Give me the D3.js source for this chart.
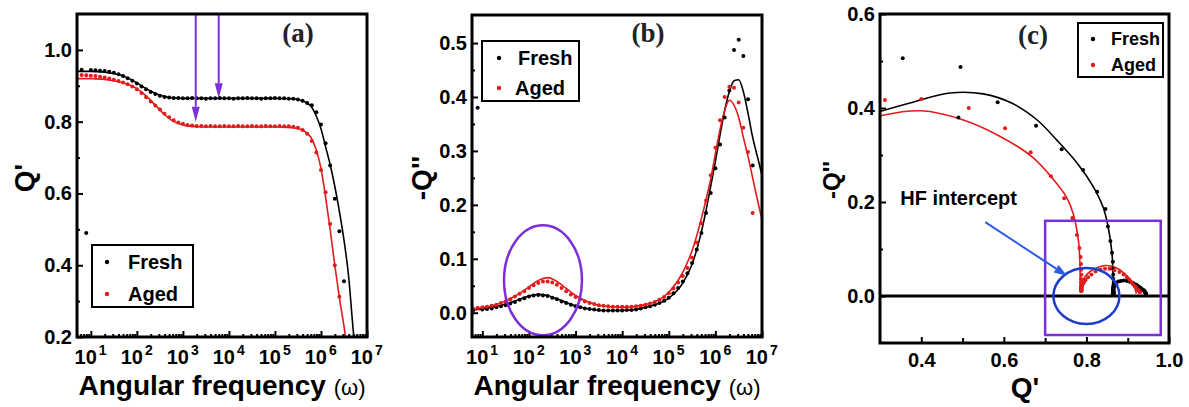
<!DOCTYPE html>
<html>
<head>
<meta charset="utf-8">
<script src="https://cdn.jsdelivr.net/npm/d3@7"></script>
<style>
body { margin: 0; background: #fff; }
</style>
</head>
<body>
<div id="chart"></div>
<script>
// ---- Data ----
// measured points: log10 of angular frequency
var pointLogW = [0.8,0.9,1.0,1.1,1.2,1.3,1.4,1.5,1.6,1.7,1.8,1.9,2.0,2.1,2.2,2.3,2.4,2.5,2.6,2.7,2.8,2.9,
                 3.0,3.1,3.2,3.3,3.4,3.5,3.6,3.7,3.8,3.9,4.0,4.1,4.2,4.3,4.4,4.5,4.6,4.7,4.8,4.9,
                 5.0,5.1,5.2,5.3,5.4,5.5,5.6,5.7,5.8,5.9,6.0,6.1,6.2,6.3,6.4,6.5,6.6,6.7,6.8];
// Q' (real part)
var freshQ1 = [0.945,0.49,0.944,0.943,0.942,0.941,0.939,0.936,0.932,0.927,0.921,0.914,0.906,0.898,0.890,0.883,0.877,0.872,0.869,0.867,0.866,0.866,
               0.865,0.865,0.866,0.865,0.865,0.864,0.865,0.865,0.866,0.865,0.865,0.864,0.865,0.865,0.866,0.865,0.865,0.864,0.865,0.865,
               0.866,0.865,0.865,0.864,0.864,0.862,0.858,0.852,0.846,0.826,0.792,0.740,0.678,0.585,0.495,0.355,0.19,0.12,0.05];
var agedQ1  = [0.930,0.929,0.928,0.927,0.925,0.923,0.920,0.917,0.913,0.909,0.904,0.898,0.890,0.880,0.868,0.856,0.845,0.834,0.822,0.812,0.804,0.798,
               0.794,0.791,0.789,0.788,0.788,0.787,0.788,0.787,0.787,0.788,0.787,0.787,0.788,0.787,0.787,0.788,0.787,0.787,0.788,0.787,
               0.787,0.788,0.787,0.787,0.786,0.783,0.777,0.766,0.746,0.714,0.665,0.603,0.515,0.400,0.312,0.19,null,null,null];
// -Q'' (imaginary part)
var freshQ2 = [0.004,0.38,0.006,0.007,0.008,0.010,0.012,0.014,0.017,0.020,0.024,0.027,0.030,0.032,0.033,0.032,0.031,0.028,0.025,0.021,0.018,0.015,
               0.012,0.010,0.008,0.007,0.006,0.005,0.004,0.004,0.004,0.004,0.004,0.005,0.005,0.006,0.008,0.010,0.012,0.015,0.018,0.022,
               0.028,0.036,0.046,0.058,0.073,0.092,0.117,0.148,0.185,0.222,0.268,0.312,0.362,0.412,0.487,0.506,0.476,0.396,0.273];
var agedQ2  = [0.008,0.009,0.010,0.011,0.013,0.015,0.018,0.021,0.025,0.030,0.035,0.040,0.046,0.051,0.055,0.058,0.058,0.056,0.052,0.046,0.040,0.034,
               0.029,0.025,0.021,0.018,0.016,0.014,0.013,0.012,0.011,0.011,0.011,0.011,0.011,0.012,0.013,0.015,0.017,0.020,0.024,0.029,
               0.036,0.045,0.056,0.068,0.083,0.102,0.130,0.166,0.208,0.255,0.306,0.357,0.400,0.419,0.417,0.390,0.343,0.298,0.185];

// fitted curves
var fitLogW     = [0.7,1.0,1.5,1.8,2.0,2.2,2.4,2.6,2.8,3.0,3.3,3.6,4.0,4.5,5.0,5.3,5.5,5.7,5.8,5.9,6.0,6.1,6.2,6.3,6.4,6.5,6.6,6.7,6.8,6.9,7.0];
var freshFitQ1  = [0.940,0.940,0.934,0.922,0.908,0.892,0.879,0.870,0.866,0.865,0.865,0.865,0.865,0.865,0.865,0.864,0.862,0.852,0.840,0.815,0.780,0.730,0.680,0.620,0.550,0.470,0.370,0.220,0.100,0.020,0.000];
var agedFitQ1   = [0.920,0.920,0.914,0.904,0.892,0.872,0.846,0.820,0.800,0.791,0.786,0.785,0.785,0.785,0.785,0.784,0.781,0.768,0.752,0.720,0.670,0.590,0.500,0.400,0.310,0.230,0.140,0.060,0.000,-0.050,-0.100];
var freshFitQ2  = [0.004,0.007,0.016,0.025,0.031,0.034,0.032,0.026,0.019,0.013,0.007,0.004,0.004,0.010,0.027,0.055,0.090,0.150,0.190,0.235,0.280,0.330,0.375,0.410,0.430,0.432,0.410,0.370,0.325,0.290,0.255];
var agedFitQ2   = [0.005,0.009,0.022,0.036,0.048,0.060,0.065,0.058,0.045,0.032,0.019,0.012,0.010,0.015,0.038,0.075,0.115,0.175,0.210,0.248,0.295,0.340,0.375,0.394,0.385,0.362,0.325,0.290,0.250,0.210,0.172];

var seriesNames  = ["Fresh", "Aged"];
var decadeTicks  = [1e1, 1e2, 1e3, 1e4, 1e5, 1e6, 1e7];
var decadeLabels = ["1", "2", "3", "4", "5", "6", "7"];
var ticksA  = [0.2, 0.4, 0.6, 0.8, 1.0];
var ticksB  = [0.0, 0.1, 0.2, 0.3, 0.4, 0.5];
var ticksCy = [0.0, 0.2, 0.4, 0.6];
var ticksCx = [0.4, 0.6, 0.8, 1.0];

// ---- Setup ----
var red    = "#e21b1b";
var colors = ["#000000", red];
var purple = "#7a2fd8";
var blue   = "#1d3ccf";
var font   = "'Liberation Sans', Arial, sans-serif";

var svg = d3.select("#chart").append("svg")
    .attr("width", 1189)
    .attr("height", 407)
    .attr("font-family", font);

function rows(logs, re, im) {
    return logs.map(function(l, i) {
        return { w: Math.pow(10, l), re: re[i], im: im[i] };
    });
}
var pts  = [ rows(pointLogW, freshQ1, freshQ2), rows(pointLogW, agedQ1, agedQ2) ];
var fits = [ rows(fitLogW, freshFitQ1, freshFitQ2), rows(fitLogW, agedFitQ1, agedFitQ2) ];

// scales
var xa = d3.scaleLog().domain([5, 1e7]).range([77, 367]);
var ya = d3.scaleLinear().domain([0.2, 1.1]).range([337, 14]);
var xb = d3.scaleLog().domain([6, 1e7]).range([472, 762]);
var yb = d3.scaleLinear().domain([-0.045, 0.552]).range([337, 15]);
var xc = d3.scaleLinear().domain([0.3, 1.0]).range([880, 1169]);
var yc = d3.scaleLinear().domain([-0.1, 0.6]).range([343, 14]);

function makePanel(id, x, y) {
    var r = { x: x.range()[0], y: y.range()[1], w: x.range()[1] - x.range()[0], h: y.range()[0] - y.range()[1] };
    svg.append("clipPath").attr("id", id)
        .append("rect").attr("x", r.x).attr("y", r.y).attr("width", r.w).attr("height", r.h);
    var g = svg.append("g");
    var plot = g.append("g").attr("clip-path", "url(#" + id + ")");
    return { g: g, plot: plot, r: r };
}

function styleAxis(sel) {
    sel.select(".domain").remove();
    sel.selectAll("line").attr("stroke", "#000").attr("stroke-width", 2);
    sel.selectAll("text")
        .attr("font-family", font)
        .attr("font-size", 20)
        .attr("font-weight", "bold")
        .attr("fill", "#000");
}

function yAxis(p, y, major, minor, fmt) {
    p.g.append("g")
        .attr("transform", "translate(" + p.r.x + ",0)")
        .call(d3.axisLeft(y).tickValues(minor).tickSize(-3).tickFormat(""))
        .call(styleAxis);
    p.g.append("g")
        .attr("transform", "translate(" + p.r.x + ",0)")
        .call(d3.axisLeft(y).tickValues(major).tickSize(-6).tickPadding(5).tickFormat(d3.format(fmt)))
        .call(styleAxis);
}

function logXAxis(p, x) {
    var minor = x.ticks().filter(function(d) { return decadeTicks.indexOf(d) < 0; });
    var by = p.r.y + p.r.h;
    p.g.append("g")
        .attr("transform", "translate(0," + by + ")")
        .call(d3.axisBottom(x).tickValues(minor).tickSize(-3).tickFormat(""))
        .call(styleAxis);
    p.g.append("g")
        .attr("transform", "translate(0," + by + ")")
        .call(d3.axisBottom(x).tickValues(decadeTicks).tickSize(-6).tickFormat(""))
        .call(styleAxis);
    // "10" with the exponent as a separate superscript
    p.g.selectAll(null)
        .data(decadeTicks)
        .enter()
        .append("text")
        .attr("x", function(d) { return x(d) + 6; })
        .attr("y", by + 27)
        .attr("text-anchor", "end")
        .attr("font-size", 20)
        .attr("font-weight", "bold")
        .text("10");
    p.g.selectAll(null)
        .data(decadeTicks)
        .enter()
        .append("text")
        .attr("x", function(d) { return x(d) + 8; })
        .attr("y", by + 18)
        .attr("font-size", 14)
        .attr("font-weight", "bold")
        .text(function(d, i) { return decadeLabels[i]; });

    var title = p.g.append("text")
        .attr("x", p.r.x + p.r.w / 2)
        .attr("y", 395)
        .attr("text-anchor", "middle");
    title.append("tspan").attr("font-size", 28).attr("font-weight", "bold").text("Angular frequency ");
    title.append("tspan").attr("font-size", 22).text("(\u03c9)");
}

function yTitle(p, txt, cx, cy, size) {
    p.g.append("text")
        .attr("transform", "translate(" + cx + "," + cy + ") rotate(-90)")
        .attr("text-anchor", "middle")
        .attr("dy", "0.35em")
        .attr("font-size", size)
        .attr("font-weight", "bold")
        .text(txt);
}

function panelTag(p, txt, cx, by) {
    p.g.append("text")
        .attr("x", cx)
        .attr("y", by)
        .attr("text-anchor", "middle")
        .attr("font-family", "'Liberation Serif', 'Times New Roman', serif")
        .attr("font-size", 27)
        .attr("font-weight", "bold")
        .attr("fill", "#222")
        .text(txt);
}

function dots(p, data, xf, yf, color) {
    p.plot.selectAll(null)
        .data(data.filter(function(d) { return d.re != null && d.im != null; }))
        .enter()
        .append("circle")
        .attr("cx", xf)
        .attr("cy", yf)
        .attr("r", 2)
        .attr("fill", color);
}

function curve(p, data, line, color) {
    p.plot.append("path")
        .datum(data)
        .attr("d", line)
        .attr("fill", "none")
        .attr("stroke", color)
        .attr("stroke-width", 1.6);
}

function legend(p, x0, y0, w, h, size, rowsY, dotX, textX) {
    p.g.append("rect")
        .attr("x", x0).attr("y", y0).attr("width", w).attr("height", h)
        .attr("fill", "#fff").attr("stroke", "#000").attr("stroke-width", 2);
    seriesNames.forEach(function(name, i) {
        p.g.append("circle")
            .attr("cx", dotX).attr("cy", rowsY[i])
            .attr("r", 2.2).attr("fill", colors[i]);
        p.g.append("text")
            .attr("x", textX[i]).attr("y", rowsY[i])
            .attr("dy", "0.35em")
            .attr("font-size", size)
            .attr("font-weight", "bold")
            .text(name);
    });
}

function frame(p) {
    p.g.append("rect")
        .attr("x", p.r.x).attr("y", p.r.y).attr("width", p.r.w).attr("height", p.r.h)
        .attr("fill", "none").attr("stroke", "#000").attr("stroke-width", 3);
}

function arrowHead(g, x1, y1, x2, y2, len, wid, color) {
    var a = Math.atan2(y2 - y1, x2 - x1);
    var bx = x2 - len * Math.cos(a), by = y2 - len * Math.sin(a);
    var nx = -Math.sin(a) * wid / 2, ny = Math.cos(a) * wid / 2;
    g.append("line")
        .attr("x1", x1).attr("y1", y1).attr("x2", bx).attr("y2", by)
        .attr("stroke", color).attr("stroke-width", 2);
    g.append("path")
        .attr("d", "M" + x2 + "," + y2 + "L" + (bx + nx) + "," + (by + ny) + "L" + (bx - nx) + "," + (by - ny) + "Z")
        .attr("fill", color);
}

// ---- Panel (a): Q' vs frequency ----
var pa = makePanel("clipA", xa, ya);
var lineA = d3.line().x(function(d) { return xa(d.w); }).y(function(d) { return ya(d.re); }).curve(d3.curveMonotoneX);
fits.forEach(function(s, i) { curve(pa, s, lineA, colors[i]); });
pts.forEach(function(s, i) {
    dots(pa, s.filter(function(d) { return d.re != null; }).map(function(d) { return { re: d.re, im: 0, w: d.w }; }),
        function(d) { return xa(d.w); }, function(d) { return ya(d.re); }, colors[i]);
});
yAxis(pa, ya, ticksA, [0.3, 0.5, 0.7, 0.9], ".1f");
logXAxis(pa, xa);
yTitle(pa, "Q'", 24, 178, 28);
panelTag(pa, "(a)", 298, 42);
// arrows marking the plateaus
var arrowW   = [1900, 6000];
var arrowTip = [0.80, 0.865];
arrowW.forEach(function(w, i) {
    arrowHead(pa.g, xa(w), ya(1.1), xa(w), ya(arrowTip[i]), 15, 8, purple);
});
legend(pa, 92, 245, 101, 62, 20, [262, 294], 107, [128, 128]);
frame(pa);

// ---- Panel (b): -Q'' vs frequency ----
var pb = makePanel("clipB", xb, yb);
var lineB = d3.line().x(function(d) { return xb(d.w); }).y(function(d) { return yb(d.im); }).curve(d3.curveMonotoneX);
fits.forEach(function(s, i) { curve(pb, s, lineB, colors[i]); });
pts.forEach(function(s, i) {
    dots(pb, s.map(function(d) { return { re: 0, im: d.im, w: d.w }; }),
        function(d) { return xb(d.w); }, function(d) { return yb(d.im); }, colors[i]);
});
yAxis(pb, yb, ticksB, [0.05, 0.15, 0.25, 0.35, 0.45], ".1f");
logXAxis(pb, xb);
yTitle(pb, "-Q''", 421, 178, 28);
panelTag(pb, "(b)", 648, 42);
pb.g.append("ellipse")
    .attr("cx", xb(200)).attr("cy", yb(0.06))
    .attr("rx", 39).attr("ry", 55)
    .attr("fill", "none").attr("stroke", purple).attr("stroke-width", 2.5);
legend(pb, 482, 41, 97, 60, 20, [58, 88], 499, [518, 515]);
frame(pb);

// ---- Panel (c): Nyquist plot ----
var pc = makePanel("clipC", xc, yc);
var lineC = d3.line().x(function(d) { return xc(d.re); }).y(function(d) { return yc(d.im); }).curve(d3.curveCatmullRom.alpha(0.5));
fits.forEach(function(s, i) { curve(pc, s, lineC, colors[i]); });
pts.forEach(function(s, i) {
    dots(pc, s, function(d) { return xc(d.re); }, function(d) { return yc(d.im); }, colors[i]);
});
pc.g.append("line")
    .attr("x1", xc(0.3)).attr("x2", xc(1.0)).attr("y1", yc(0)).attr("y2", yc(0))
    .attr("stroke", "#000").attr("stroke-width", 3);
yAxis(pc, yc, ticksCy, [0.1, 0.3, 0.5], ".1f");
pc.g.append("g")
    .attr("transform", "translate(0," + yc(-0.1) + ")")
    .call(d3.axisBottom(xc).tickValues([0.5, 0.7, 0.9]).tickSize(-5).tickFormat(""))
    .call(styleAxis);
pc.g.append("g")
    .attr("transform", "translate(0," + yc(-0.1) + ")")
    .call(d3.axisBottom(xc).tickValues(ticksCx).tickSize(-6).tickPadding(10).tickFormat(d3.format(".1f")))
    .call(styleAxis);
pc.g.append("text")
    .attr("x", 1025).attr("y", 397)
    .attr("text-anchor", "middle")
    .attr("font-size", 28).attr("font-weight", "bold")
    .text("Q'");
yTitle(pc, "-Q''", 832, 180, 24);
panelTag(pc, "(c)", 1033, 44);
// highlight of the high-frequency intercept
pc.g.append("rect")
    .attr("x", xc(0.70)).attr("y", yc(0.16))
    .attr("width", xc(0.98) - xc(0.70)).attr("height", yc(-0.083) - yc(0.16))
    .attr("fill", "none").attr("stroke", purple).attr("stroke-width", 2.5);
pc.g.append("ellipse")
    .attr("cx", xc(0.80)).attr("cy", yc(0))
    .attr("rx", 33).attr("ry", 28)
    .attr("fill", "none").attr("stroke", blue).attr("stroke-width", 2.5);
arrowHead(pc.g, xc(0.555), yc(0.157), xc(0.753), yc(0.043), 13, 9, "#2a5be0");
pc.g.append("text")
    .attr("x", xc(0.349)).attr("y", yc(0.194))
    .attr("font-size", 20).attr("font-weight", "bold")
    .text("HF intercept");
legend(pc, 1078, 23, 85, 54, 18, [39, 65], 1093, [1111, 1111]);
frame(pc);
</script>
</body>
</html>
